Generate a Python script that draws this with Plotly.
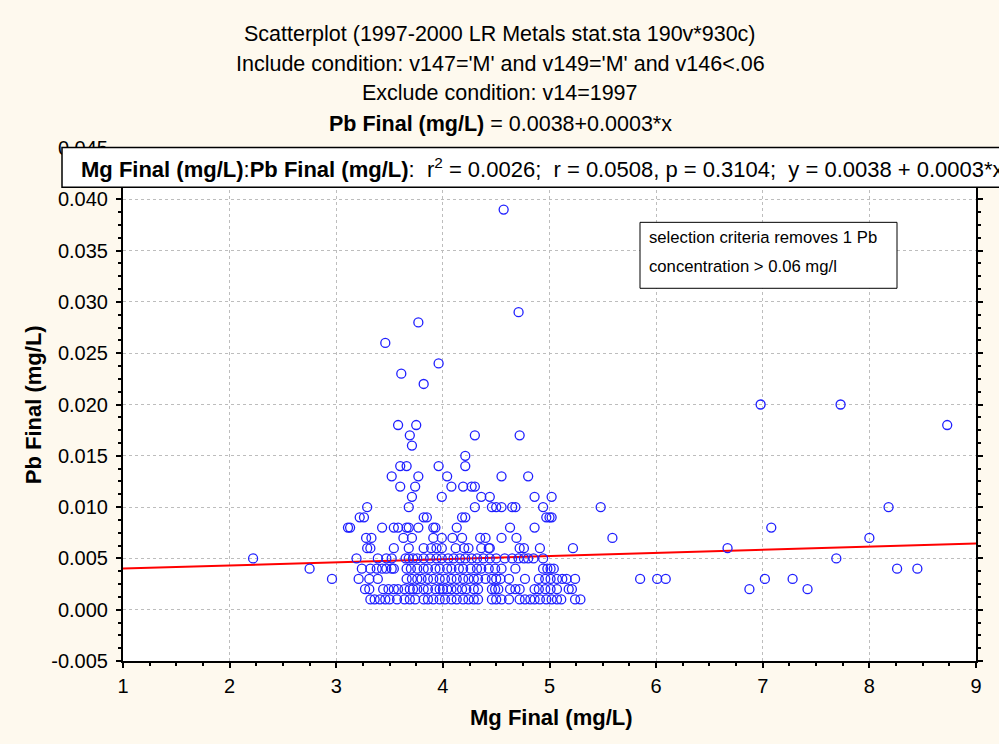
import plotly.graph_objects as go

# ---------------- data (Mg Final values grouped by Pb Final level) ----------------
MG_PB_0010 = [3.32, 3.36, 3.41, 3.46, 3.50, 3.57, 3.64, 3.69, 3.74, 3.82, 3.86, 3.91, 3.97, 4.02,
              4.08, 4.13, 4.19, 4.24, 4.29, 4.33, 4.46, 4.50, 4.55, 4.62, 4.72, 4.77, 4.82, 4.86,
              4.91, 4.97, 5.02, 5.07, 5.11, 5.24, 5.29]
MG_PB_0020 = [3.27, 3.31, 3.44, 3.49, 3.54, 3.58, 3.64, 3.69, 3.72, 3.76, 3.82, 3.86, 3.93, 3.97,
              4.00, 4.04, 4.08, 4.13, 4.18, 4.22, 4.29, 4.33, 4.46, 4.49, 4.52, 4.63, 4.68, 4.72,
              4.86, 4.90, 4.96, 5.01, 5.07, 5.18, 5.21, 6.875, 7.42]
MG_PB_0030 = [2.96, 3.21, 3.31, 3.39, 3.66, 3.71, 3.76, 3.80, 3.86, 3.91, 3.97, 4.02, 4.08, 4.13,
              4.19, 4.24, 4.29, 4.33, 4.40, 4.46, 4.50, 4.54, 4.62, 4.77, 4.90, 4.96, 5.01, 5.07,
              5.12, 5.16, 5.24, 5.85, 6.01, 6.09, 7.02, 7.28]
MG_PB_0040 = [2.75, 3.24, 3.32, 3.38, 3.43, 3.47, 3.52, 3.54, 3.66, 3.70, 3.76, 3.82, 3.86, 3.93,
              3.97, 4.04, 4.08, 4.15, 4.19, 4.26, 4.32, 4.36, 4.43, 4.49, 4.55, 4.68, 4.94, 4.98,
              5.01, 5.04, 8.26, 8.45]
MG_PB_0050 = [2.22, 3.19, 3.39, 3.47, 3.52, 3.65, 3.68, 3.72, 3.76, 3.82, 3.88, 3.94, 3.99, 4.05,
              4.10, 4.16, 4.21, 4.27, 4.32, 4.38, 4.44, 4.50, 4.58, 4.65, 4.71, 4.76, 4.80, 4.85,
              4.94, 7.69]
MG_PB_0060 = [3.29, 3.32, 3.54, 3.68, 3.82, 3.89, 3.94, 3.99, 4.12, 4.20, 4.24, 4.36, 4.43, 4.44,
              4.72, 4.76, 4.91, 5.22, 6.67]
MG_PB_0070 = [3.28, 3.33, 3.63, 3.71, 3.91, 3.99, 4.09, 4.18, 4.35, 4.40, 4.55, 4.69, 5.59, 8.00]
MG_PB_0080 = [3.11, 3.13, 3.43, 3.54, 3.58, 3.66, 3.68, 3.77, 3.91, 3.93, 4.13, 4.63, 4.86, 7.08]
MG_PB_0090 = [3.22, 3.26, 3.82, 3.85, 4.18, 4.21, 4.97, 5.00, 5.02]
MG_PB_0100 = [3.29, 3.68, 4.30, 4.46, 4.50, 4.55, 4.65, 4.68, 4.94, 5.48, 8.18]
MG_PB_0110 = [3.71, 3.99, 4.36, 4.44, 4.86, 5.02]
MG_PB_0120 = [3.60, 3.74, 4.08, 4.19, 4.27, 4.30]
MG_PB_0130 = [3.52, 3.77, 4.04, 4.55, 4.80]
MG_PB_0140 = [3.60, 3.66, 3.96, 4.21]
MG_PB_0150 = [4.21]
MG_PB_0160 = [3.71]
MG_PB_0170 = [3.69, 4.30, 4.72]
MG_PB_0180 = [3.58, 3.75, 8.73]
MG_PB_0200 = [6.98, 7.73]
MG_PB_0220 = [3.82]
MG_PB_0230 = [3.61]
MG_PB_0240 = [3.96]
MG_PB_0260 = [3.46]
MG_PB_0280 = [3.77]
MG_PB_0290 = [4.71]
MG_PB_0390 = [4.57]

PB_LEVELS = [0.001, 0.002, 0.003, 0.004, 0.005, 0.006, 0.007, 0.008, 0.009, 0.010, 0.011, 0.012,
             0.013, 0.014, 0.015, 0.016, 0.017, 0.018, 0.020, 0.022, 0.023, 0.024, 0.026, 0.028,
             0.029, 0.039]
MG_GROUPS = [MG_PB_0010, MG_PB_0020, MG_PB_0030, MG_PB_0040, MG_PB_0050, MG_PB_0060, MG_PB_0070,
             MG_PB_0080, MG_PB_0090, MG_PB_0100, MG_PB_0110, MG_PB_0120, MG_PB_0130, MG_PB_0140,
             MG_PB_0150, MG_PB_0160, MG_PB_0170, MG_PB_0180, MG_PB_0200, MG_PB_0220, MG_PB_0230,
             MG_PB_0240, MG_PB_0260, MG_PB_0280, MG_PB_0290, MG_PB_0390]

FIT_INTERCEPT = 0.0037
FIT_SLOPE = 0.000305
X_RANGE = [1, 9]
X_TICKS = [1, 2, 3, 4, 5, 6, 7, 8, 9]
Y_TICKS = [-0.005, 0.000, 0.005, 0.010, 0.015, 0.020, 0.025, 0.030, 0.035, 0.040, 0.045]

TITLE_LINES = [
    "Scatterplot (1997-2000 LR Metals stat.sta 190v*930c)",
    "Include condition: v147='M' and v149='M' and v146<.06",
    "Exclude condition: v14=1997",
    "<b>Pb Final (mg/L)</b> = 0.0038+0.0003*x",
]
STATS_TEXT = ("<b>Mg Final (mg/L)</b>:<b>Pb Final (mg/L)</b>:\u00a0\u00a0r<sup>2</sup> = 0.0026;\u00a0\u00a0"
              "r = 0.0508, p = 0.3104;\u00a0\u00a0y = 0.0038 + 0.0003*x")
NOTE_LINES = ["selection criteria removes 1 Pb", "concentration > 0.06 mg/l"]

# ---------------- layout geometry ----------------
W, H = 999, 744
PL, PR, PT, PB = 123, 976, 147.6, 661
FONT = "Arial, Liberation Sans, sans-serif"
BG = "#fef9ee"
TXT = 21.5
MARK = "#1f1fff"


def px_x(px):
    return (px - PL) / (PR - PL)


def px_y(py):
    return (PB - py) / (PB - PT)


xs, ys = [], []
for lvl, grp in zip(PB_LEVELS, MG_GROUPS):
    for v in grp:
        xs.append(v)
        ys.append(lvl)

fig = go.Figure()
fig.add_trace(go.Scatter(
    x=X_RANGE, y=[FIT_INTERCEPT + FIT_SLOPE * v for v in X_RANGE],
    mode="lines", line=dict(color="#ff0000", width=2), hoverinfo="skip", showlegend=False))
fig.add_trace(go.Scatter(
    x=xs, y=ys, mode="markers",
    marker=dict(symbol="circle-open", size=9, color=MARK, line=dict(width=1.3, color=MARK)),
    showlegend=False))

axis_common = dict(
    showline=True, linecolor="black", linewidth=2,
    ticks="outside", ticklen=5, tickwidth=1.5, tickcolor="black",
    showgrid=True, gridcolor="#bdbdbd", gridwidth=1, griddash="dot",
    zeroline=False, tickfont=dict(family=FONT, size=20, color="black"),
)

fig.update_xaxes(
    range=X_RANGE, tickmode="array", tickvals=X_TICKS, ticktext=[str(t) for t in X_TICKS],
    minor=dict(tickmode="linear", tick0=1, dtick=0.25, ticks="outside", ticklen=3,
               tickcolor="black", showgrid=False),
    ticklabelstandoff=1,
    **axis_common)
fig.update_yaxes(
    range=[Y_TICKS[0], Y_TICKS[-1]], tickmode="array", tickvals=Y_TICKS,
    ticktext=[f"{t:.3f}" for t in Y_TICKS], mirror="allticks",
    minor=dict(tickmode="linear", tick0=-0.005, dtick=0.00125, ticks="outside", ticklen=3,
               tickcolor="black", showgrid=False),
    ticklabelstandoff=4,
    **axis_common)

shapes = [
    # statistics legend box across top
    dict(type="rect", xref="paper", yref="paper", x0=px_x(62), x1=px_x(1010),
         y0=px_y(187), y1=px_y(147), fillcolor="white", line=dict(color="black", width=1.5),
         layer="above"),
    # note box
    dict(type="rect", xref="paper", yref="paper", x0=px_x(640), x1=px_x(897),
         y0=px_y(288), y1=px_y(222), fillcolor="white", line=dict(color="black", width=1),
         layer="above"),
]

annotations = []
for line, py in zip(TITLE_LINES, [34, 64, 93, 124]):
    annotations.append(dict(text=line, xref="paper", yref="paper", x=px_x(500), y=px_y(py),
                            xanchor="center", yanchor="middle", showarrow=False,
                            font=dict(family=FONT, size=TXT, color="black")))
annotations.append(dict(text=STATS_TEXT, xref="paper", yref="paper", x=px_x(79), y=px_y(168),
                        xanchor="left", yanchor="middle", showarrow=False,
                        font=dict(family=FONT, size=22, color="black")))
for line, py in zip(NOTE_LINES, [237, 266]):
    annotations.append(dict(text=line, xref="paper", yref="paper", x=px_x(647), y=px_y(py),
                            xanchor="left", yanchor="middle", showarrow=False,
                            font=dict(family=FONT, size=16.7, color="black")))
annotations.append(dict(text="<b>Mg Final (mg/L)</b>", xref="paper", yref="paper",
                        x=px_x(551), y=px_y(718), xanchor="center", yanchor="middle",
                        showarrow=False, font=dict(family=FONT, size=22, color="black")))
annotations.append(dict(text="<b>Pb Final (mg/L)</b>", xref="paper", yref="paper",
                        x=px_x(33), y=px_y(405), xanchor="center", yanchor="middle",
                        textangle=-90, showarrow=False,
                        font=dict(family=FONT, size=22, color="black")))

fig.update_layout(
    width=W, height=H, autosize=False,
    margin=dict(l=PL, r=W - PR, t=PT, b=H - PB, pad=0),
    paper_bgcolor=BG, plot_bgcolor="white",
    shapes=shapes, annotations=annotations,
    font=dict(family=FONT, color="black"),
)

fig.write_html("out.html")
